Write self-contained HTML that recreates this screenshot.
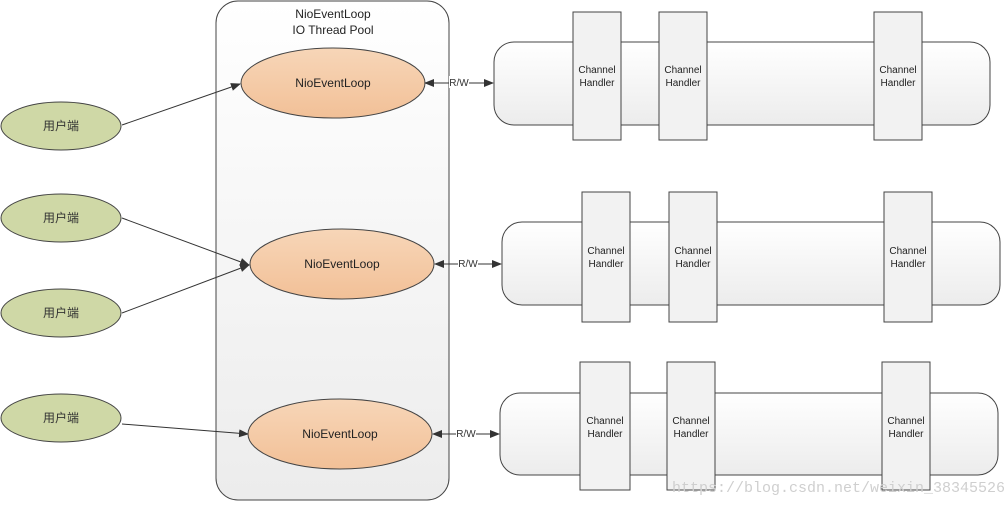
<!DOCTYPE html>
<html><head><meta charset="utf-8"><style>body{margin:0;background:#fff}svg{display:block}</style></head><body>
<svg width="1004" height="505" viewBox="0 0 1004 505" xmlns="http://www.w3.org/2000/svg" font-family="Liberation Sans, Noto Sans CJK SC, sans-serif">
<defs>
<linearGradient id="g1" x1="0" y1="0" x2="0" y2="1"><stop offset="0" stop-color="#ffffff"/><stop offset="1" stop-color="#ececec"/></linearGradient>
<linearGradient id="org" x1="0" y1="0" x2="0" y2="1"><stop offset="0" stop-color="#f7d6b8"/><stop offset="1" stop-color="#f2c097"/></linearGradient>
<marker id="ar" markerWidth="10" markerHeight="8" refX="9" refY="4" orient="auto" markerUnits="userSpaceOnUse"><path d="M0,0 L10,4 L0,8 z" fill="#333"/></marker>
<marker id="al" markerWidth="10" markerHeight="8" refX="1" refY="4" orient="auto" markerUnits="userSpaceOnUse"><path d="M10,0 L0,4 L10,8 z" fill="#333"/></marker>
</defs>
<rect x="216" y="1" width="233" height="499" rx="22" fill="url(#g1)" stroke="#444"/>
<text x="333" y="18" font-size="12" text-anchor="middle" fill="#222">NioEventLoop</text>
<text x="333" y="34" font-size="12" text-anchor="middle" fill="#222">IO Thread Pool</text>
<g stroke="#444" fill="#cfd8a6">
<ellipse cx="61" cy="126" rx="60" ry="24"/>
<ellipse cx="61" cy="218" rx="60" ry="24"/>
<ellipse cx="61" cy="313" rx="60" ry="24"/>
<ellipse cx="61" cy="418" rx="60" ry="24"/>
</g>
<g font-size="12" text-anchor="middle" fill="#333">
<text x="61" y="130">用户端</text><text x="61" y="222">用户端</text><text x="61" y="317">用户端</text><text x="61" y="422">用户端</text>
</g>
<g stroke="#333" stroke-width="1" marker-end="url(#ar)">
<line x1="122" y1="125" x2="240" y2="84"/>
<line x1="122" y1="218" x2="249" y2="265"/>
<line x1="122" y1="313" x2="249" y2="265"/>
<line x1="122" y1="424" x2="248" y2="434"/>
</g>
<g stroke="#444" fill="url(#org)">
<ellipse cx="333" cy="83" rx="92" ry="35"/>
<ellipse cx="342" cy="264" rx="92" ry="35"/>
<ellipse cx="340" cy="434" rx="92" ry="35"/>
</g>
<g font-size="12" text-anchor="middle" fill="#222">
<text x="333" y="87">NioEventLoop</text><text x="342" y="268">NioEventLoop</text><text x="340" y="438">NioEventLoop</text>
</g>
<g stroke="#333" marker-start="url(#al)" marker-end="url(#ar)">
<line x1="425" y1="83" x2="493" y2="83"/>
<line x1="435" y1="264" x2="501" y2="264"/>
<line x1="433" y1="434" x2="499" y2="434"/>
</g>
<g font-size="10" text-anchor="middle" fill="#333">
<rect x="449" y="76" width="20" height="12" fill="#fff"/><text x="459" y="86">R/W</text>
<rect x="458" y="257" width="20" height="12" fill="#fff"/><text x="468" y="267">R/W</text>
<rect x="456" y="427" width="20" height="12" fill="#fff"/><text x="466" y="437">R/W</text>
</g>
<g stroke="#444" fill="url(#g1)">
<rect x="494" y="42" width="496" height="83" rx="20"/>
<rect x="502" y="222" width="498" height="83" rx="20"/>
<rect x="500" y="393" width="498" height="82" rx="20"/>
</g>
<g stroke="#444" fill="#f2f2f2">
<rect x="573" y="12" width="48" height="128"/><rect x="659" y="12" width="48" height="128"/><rect x="874" y="12" width="48" height="128"/>
<rect x="582" y="192" width="48" height="130"/><rect x="669" y="192" width="48" height="130"/><rect x="884" y="192" width="48" height="130"/>
<rect x="580" y="362" width="50" height="128"/><rect x="667" y="362" width="48" height="128"/><rect x="882" y="362" width="48" height="128"/>
</g>
<g font-size="10" text-anchor="middle" fill="#222">
<text x="597" y="73">Channel</text><text x="597" y="86">Handler</text>
<text x="683" y="73">Channel</text><text x="683" y="86">Handler</text>
<text x="898" y="73">Channel</text><text x="898" y="86">Handler</text>
<text x="606" y="254">Channel</text><text x="606" y="267">Handler</text>
<text x="693" y="254">Channel</text><text x="693" y="267">Handler</text>
<text x="908" y="254">Channel</text><text x="908" y="267">Handler</text>
<text x="605" y="424">Channel</text><text x="605" y="437">Handler</text>
<text x="691" y="424">Channel</text><text x="691" y="437">Handler</text>
<text x="906" y="424">Channel</text><text x="906" y="437">Handler</text>
</g>
<text x="672" y="492" font-size="15" fill="#cfcfcf" font-family="Liberation Mono, monospace">https://blog.csdn.net/weixin_38345526</text>
</svg>
</body></html>
